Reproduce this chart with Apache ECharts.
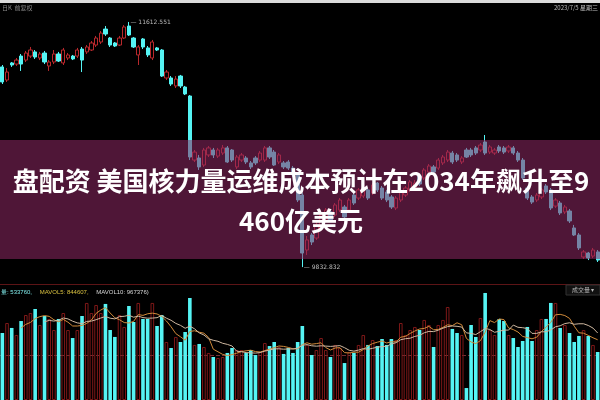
<!DOCTYPE html>
<html><head><meta charset="utf-8">
<script src="https://cdn.jsdelivr.net/npm/echarts@6/dist/echarts.min.js"></script>
<style>html,body{margin:0;padding:0;background:#000;overflow:hidden}#c{width:600px;height:400px}</style>
</head><body><div id="c"></div>
<script>
// [open, close, low, high]
const ohlc = [
[11286,11177,11162,11300],[11191,11249,11177,11278],[11315,11300,11286,11322],[11307,11336,11293,11351],
[11365,11307,11257,11380],[11336,11387,11322,11402],[11365,11409,11351,11431],[11395,11358,11344,11409],
[11351,11380,11336,11395],[11387,11322,11307,11402],[11293,11322,11257,11336],[11322,11380,11307,11409],
[11380,11329,11322,11395],[11315,11409,11300,11424],[11351,11373,11336,11387],[11365,11344,11336,11373],
[11365,11409,11351,11424],[11416,11336,11249,11431],[11395,11431,11380,11445],[11409,11460,11402,11474],
[11445,11496,11431,11511],[11467,11532,11453,11547],[11561,11525,11511,11583],[11496,11445,11431,11503],
[11460,11438,11431,11467],[11445,11496,11438,11511],[11496,11576,11489,11590],[11583,11518,11511,11612.551],
[11496,11431,11424,11503],[11373,11431,11300,11445],[11489,11431,11416,11496],[11424,11373,11358,11438],
[11351,11467,11336,11482],[11424,11409,11402,11431],[11409,11220,11213,11416],[11206,11249,11191,11264],
[11206,11162,11148,11220],[11148,11198,11133,11220],[11220,11148,11133,11228],[11140,11090,11082,11148],
[11075,10632,10610,11082],[10610,10668,10596,10683],[10625,10560,10538,10647],[10574,10683,10560,10698],
[10647,10698,10632,10712],[10683,10647,10625,10698],[10639,10683,10625,10698],[10661,10698,10647,10719],
[10698,10596,10589,10712],[10683,10610,10596,10690],[10560,10632,10545,10647],[10610,10647,10596,10661],
[10625,10596,10581,10639],[10589,10560,10545,10603],[10625,10589,10574,10639],[10610,10661,10596,10676],
[10610,10698,10596,10712],[10698,10632,10618,10712],[10668,10574,10567,10683],[10596,10647,10581,10661],
[10589,10560,10545,10603],[10596,10552,10538,10610],[10552,10502,10487,10567],[10502,10320,10305,10516],
[10356,9935,9832.832,10371],[9957,10030,9921,10059],[10066,10015,9993,10080],[10044,10139,10030,10160],
[10117,10211,10102,10233],[10175,10247,10160,10262],[10233,10175,10160,10247],[10211,10284,10197,10298],
[10247,10320,10233,10334],[10269,10197,10182,10284],[10247,10320,10233,10334],[10356,10298,10284,10371],
[10334,10393,10320,10407],[10349,10407,10334,10422],[10393,10334,10320,10407],[10371,10429,10356,10443],
[10443,10393,10378,10451],[10407,10334,10320,10422],[10378,10320,10305,10393],[10342,10269,10255,10356],
[10262,10334,10247,10349],[10320,10378,10305,10393],[10356,10407,10342,10422],[10393,10451,10378,10465],
[10407,10443,10393,10465],[10494,10436,10422,10509],[10480,10538,10465,10552],[10523,10567,10509,10581],
[10560,10523,10509,10574],[10552,10610,10538,10625],[10589,10632,10574,10647],[10610,10668,10596,10683],
[10661,10596,10581,10676],[10647,10610,10596,10661],[10596,10625,10581,10639],[10683,10632,10625,10698],
[10683,10647,10632,10698],[10698,10661,10647,10712],[10683,10719,10668,10734],[10741,10661,10647,10792],
[10668,10705,10654,10719],[10661,10683,10647,10698],[10705,10676,10661,10719],[10698,10668,10654,10712],
[10676,10705,10661,10719],[10698,10661,10647,10712],[10661,10610,10596,10676],[10610,10480,10465,10625],
[10407,10334,10320,10422],[10342,10305,10291,10356],[10320,10356,10305,10371],[10342,10393,10327,10407],
[10422,10378,10364,10436],[10393,10262,10247,10407],[10276,10320,10262,10334],[10298,10226,10211,10313],
[10233,10269,10218,10284],[10240,10168,10153,10255],[10117,10066,10059,10139],[10066,9972,9957,10080],
[9906,9943,9892,9957],[9935,9899,9884,9943],[9913,9957,9899,9972],[9943,9884,9870,9957]
];
// volume, thousands
const volumes = [
745,856,801,723,878,945,967,1012,834,934,
901,778,901,967,778,689,778,934,1079,967,
1056,967,1068,778,701,945,812,1045,867,1079,
901,901,1079,823,945,645,578,701,645,756,
1134,612,623,589,523,478,467,478,523,578,
556,556,523,556,500,534,634,600,645,589,
512,578,523,645,823,612,500,556,689,556,
478,612,578,411,534,523,612,723,612,667,
600,678,612,678,667,856,723,778,812,778,
890,834,589,834,890,1034,790,745,723,133,
834,701,912,1190,778,723,901,878,723,689,
589,656,812,656,778,901,901,1079,1079,801,
834,745,645,712,778,712,612,534
];
const categories = ohlc.map((d, i) => 'K' + (i + 1));
const titleLine1 = '盘配资 美国核力量运维成本预计在2034年飙升至9';
const titleLine2 = '460亿美元';
const volLegend = ['量: 533760,', 'MAVOL5: 844607,', 'MAVOL10: 967376)'];

function movingAvg(arr, n) {
  return arr.map((v, i) => {
    if (i < n - 1) return '-';
    let s = 0; for (let k = i - n + 1; k <= i; k++) s += arr[k];
    return s / n;
  });
}
const UP = '#b8282c', DOWN = '#55f4f4';
const volData = volumes.map((v, i) => {
  const up = ohlc[i][1] >= ohlc[i][0];
  return { value: v, itemStyle: up ? { color: 'rgba(0,0,0,0)', borderColor: '#7e1818', borderWidth: 1 } : { color: DOWN, borderWidth: 0 } };
});

const chart = echarts.init(document.getElementById('c'), null, { renderer: 'canvas' });
chart.setOption({
  backgroundColor: '#000',
  animation: false,
  grid: [
    { left: 0, right: 0, top: 0, height: 284 },
    { left: 0, right: 0, top: 290, bottom: 0 }
  ],
  xAxis: [
    { type: 'category', data: categories, gridIndex: 0, boundaryGap: true,
      axisLine: { show: true, lineStyle: { color: '#5c1416', width: 1 } }, axisTick: { show: false }, axisLabel: { show: false }, splitLine: { show: false } },
    { type: 'category', data: categories, gridIndex: 1, boundaryGap: true,
      axisLine: { show: false }, axisTick: { show: false }, axisLabel: { show: false }, splitLine: { show: false } }
  ],
  yAxis: [
    { type: 'value', gridIndex: 0, min: 9710.2, max: 11772, axisLine: { show: false }, axisTick: { show: false }, axisLabel: { show: false }, splitLine: { show: false } },
    { type: 'value', gridIndex: 1, min: 0, max: 1223, interval: 500, axisLine: { show: false }, axisTick: { show: false }, axisLabel: { show: false },
      splitLine: { show: true, lineStyle: { color: ['rgba(0,0,0,0)', 'rgba(190,80,90,0.6)', 'rgba(0,0,0,0)'], type: 'dashed', width: 1 } } }
  ],
  series: [
    { type: 'candlestick', xAxisIndex: 0, yAxisIndex: 0, data: ohlc, barWidth: 3.8,
      itemStyle: { color: '#000', color0: DOWN, borderColor: UP, borderColor0: DOWN, borderWidth: 1 },
      markPoint: {
        symbol: 'circle', symbolSize: 1,
        itemStyle: { color: 'rgba(0,0,0,0)' },
        label: { show: true, position: 'right', distance: 1, color: '#bbbbbb', fontSize: 6, fontFamily: 'DejaVu Sans',
          formatter: p => '— ' + p.value },
        data: [ { type: 'max', valueDim: 'highest' }, { type: 'min', valueDim: 'lowest' } ]
      }
    },
    { type: 'bar', xAxisIndex: 1, yAxisIndex: 1, data: volData, barWidth: 3.6 },
    { type: 'line', xAxisIndex: 1, yAxisIndex: 1, data: movingAvg(volumes, 5), symbol: 'none', smooth: false,
      lineStyle: { color: '#d08a3a', width: 1 } },
    { type: 'line', xAxisIndex: 1, yAxisIndex: 1, data: movingAvg(volumes, 10), symbol: 'none', smooth: false,
      lineStyle: { color: '#cfb8a0', width: 1 } }
  ],
  graphic: [
    { type: 'rect', z: 50, shape: { x: 0, y: 0, width: 600, height: 3 }, style: { fill: '#dcdcdc' } },
    { type: 'text', z: 50, left: 2, top: 5, style: { text: '日K  前复权', fill: '#8a8a8a', fontSize: 6, fontFamily: 'Noto Sans CJK SC' } },
    { type: 'text', z: 50, right: 2, top: 5, style: { text: '2023/7/5 星期三', fill: '#bbbbbb', fontSize: 6, fontFamily: 'Noto Sans CJK SC' } },
    { type: 'rect', z: 60, shape: { x: 0, y: 140, width: 600, height: 119 }, style: { fill: 'rgba(144,40,100,0.55)' } },
    { type: 'text', z: 70, x: 301, y: 181, style: { text: titleLine1, fill: '#ffffff', fontSize: 26, fontWeight: 'bold',
      fontFamily: 'Noto Sans CJK SC', textAlign: 'center', textVerticalAlign: 'middle' } },
    { type: 'text', z: 70, x: 301, y: 221, style: { text: titleLine2, fill: '#ffffff', fontSize: 26, fontWeight: 'bold',
      fontFamily: 'Noto Sans CJK SC', textAlign: 'center', textVerticalAlign: 'middle' } },
    { type: 'text', z: 70, left: 1, top: 286, style: {
      rich: { a: { fill: '#7fe8e8', fontSize: 6 }, b: { fill: '#d8c040', fontSize: 6 }, c: { fill: '#d8d8d8', fontSize: 6 } },
      text: '{a|' + volLegend[0] + '}  {b|' + volLegend[1] + '}  {c|' + volLegend[2] + '}', fontFamily: 'DejaVu Sans' } },
    { type: 'rect', z: 70, shape: { x: 566, y: 285, width: 34, height: 10 }, style: { fill: '#111', stroke: '#333', lineWidth: 1 } },
    { type: 'text', z: 71, left: 572, top: 287, style: { text: '成交量 ▾', fill: '#bbbbbb', fontSize: 6, fontFamily: 'Noto Sans CJK SC' } }
  ]
});
</script>
</body></html>
